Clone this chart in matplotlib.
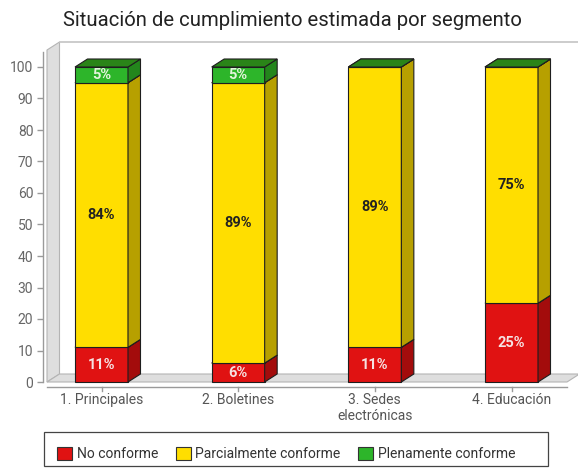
import matplotlib
matplotlib.use("Agg")
import matplotlib.pyplot as plt
from matplotlib.patches import Rectangle, Polygon, Patch

plt.rcParams['font.family'] = ['Roboto', 'DejaVu Sans']

title = "Situación de cumplimiento estimada por segmento"
categories = ["1. Principales", "2. Boletines", "3. Sedes\nelectrónicas", "4. Educación"]
series_names = ["No conforme", "Parcialmente conforme", "Plenamente conforme"]
no_conforme = [11, 6, 11, 25]
parcialmente = [84, 89, 89, 75]
plenamente = [5, 5, 0, 0]
y_ticks = [0, 10, 20, 30, 40, 50, 60, 70, 80, 90, 100]

series_values = [no_conforme, parcialmente, plenamente]
front_colors = ["#e01212", "#ffde00", "#2db52a"]
side_colors = ["#a30c0c", "#b7a000", "#23861c"]
top_colors = ["#b80e0e", "#c9b000", "#2a8418"]
label_colors = ["#f6e2e2", "#222222", "#e4f4dc"]

W, H = 578, 470
fig = plt.figure(figsize=(W / 100, H / 100), dpi=100)

# pixel geometry of the plotting frame
x0_px, px_per_x = 101.5, 136.67
y0_px, px_per_y = 382.0, 3.15
ax_l, ax_r, ax_t, ax_b = 43, 578, 40, 395
ax = fig.add_axes([ax_l / W, 1 - ax_b / H, (ax_r - ax_l) / W, (ax_b - ax_t) / H])
ax.set_xlim((ax_l - x0_px) / px_per_x, (ax_r - x0_px) / px_per_x)
ax.set_ylim((y0_px - ax_b) / px_per_y, (y0_px - ax_t) / px_per_y)
for s in ax.spines.values():
    s.set_visible(False)

def px2x(p):
    return (p - x0_px) / px_per_x

def py2y(p):
    return (y0_px - p) / px_per_y

dx = 12.5 / px_per_x   # depth offset
dy = 8.0 / px_per_y
bar_w = 53 / px_per_x

wall_top = py2y(50)
xl, xr = px2x(47), px2x(567)
grey_fill, grey_edge = "#dedede", "#b4b4b4"

# left wall
ax.add_patch(Polygon([(xl, 0), (xl + dx, dy), (xl + dx, wall_top + dy), (xl, wall_top)],
                     closed=True, facecolor=grey_fill, edgecolor=grey_edge, lw=0.8, zorder=1))
# floor
ax.add_patch(Polygon([(xl, 0), (xr, 0), (xr + dx, dy), (xl + dx, dy)],
                     closed=True, facecolor=grey_fill, edgecolor=grey_edge, lw=0.8, zorder=1))
# back wall top edge
ax.plot([xl + dx, ax.get_xlim()[1]], [wall_top + dy, wall_top + dy], color="#c4c4c4", lw=1.2,
        zorder=1, clip_on=False)

# axes lines
ax.plot([ax.get_xlim()[0]] * 2, [0, py2y(52)], color="#9a9a9a", lw=1, clip_on=False, zorder=2)
x_axis_y = py2y(387)
ax.plot([xl, xr], [x_axis_y, x_axis_y], color="#9a9a9a", lw=1, clip_on=False, zorder=2)
for i in range(len(categories)):
    ax.plot([i, i], [x_axis_y, py2y(391)], color="#9a9a9a", lw=1, clip_on=False, zorder=2)

ax.set_yticks(y_ticks)
ax.set_yticklabels([str(t) for t in y_ticks])
ax.tick_params(axis="y", length=4, width=1, color="#9a9a9a", labelcolor="#666666",
               labelsize=10, pad=3)
ax.set_xticks([])

# stacked 3D bars
for i in range(len(categories)):
    bottom = 0
    left, right = i - bar_w / 2, i + bar_w / 2
    for s, vals in enumerate(series_values):
        h = vals[i]
        top = bottom + h
        ax.add_patch(Rectangle((left, bottom), bar_w, h, facecolor=front_colors[s],
                               edgecolor="#1e1e1e", lw=0.8, zorder=3))
        ax.add_patch(Polygon([(right, bottom), (right + dx, bottom + dy),
                              (right + dx, top + dy), (right, top)], closed=True,
                             facecolor=side_colors[s], edgecolor="#1e1e1e", lw=0.8, zorder=3))
        ax.add_patch(Polygon([(left, top), (right, top), (right + dx, top + dy),
                              (left + dx, top + dy)], closed=True,
                             facecolor=top_colors[s], edgecolor="#1e1e1e", lw=0.8, zorder=3))
        if h > 0:
            ax.text(i, bottom + h / 2, f"{h}%", ha="center", va="center", fontsize=10.5,
                    fontweight="bold", color=label_colors[s], zorder=4)
        bottom = top

# category labels
for i, c in enumerate(categories):
    ax.text(i, py2y(393), c, ha="center", va="top", fontsize=10, color="#555555",
            linespacing=1.15, clip_on=False)

fig.text(292 / W, 1 - 21 / H, title, ha="center", va="center", fontsize=14.6, color="#222222")

# legend with a fixed-size frame
fig.add_artist(Rectangle((44 / W, 1 - 466 / H), (548 - 44) / W, (466 - 432) / H,
                         transform=fig.transFigure, facecolor="white", edgecolor="#444444",
                         lw=0.9, zorder=5))
handles = [Patch(facecolor=front_colors[k], edgecolor="#333333", lw=0.8) for k in range(3)]
leg = fig.legend(handles, series_names, loc="center left", bbox_to_anchor=(57 / W, 1 - 454 / H),
                 ncol=3, frameon=False, fontsize=10, handlelength=1.08,
                 handleheight=1.08, handletextpad=0.35, columnspacing=1.25, borderpad=0,
                 borderaxespad=0)
leg.set_zorder(6)
for t in leg.get_texts():
    t.set_color("#333333")

fig.savefig("out.png", dpi=100)
